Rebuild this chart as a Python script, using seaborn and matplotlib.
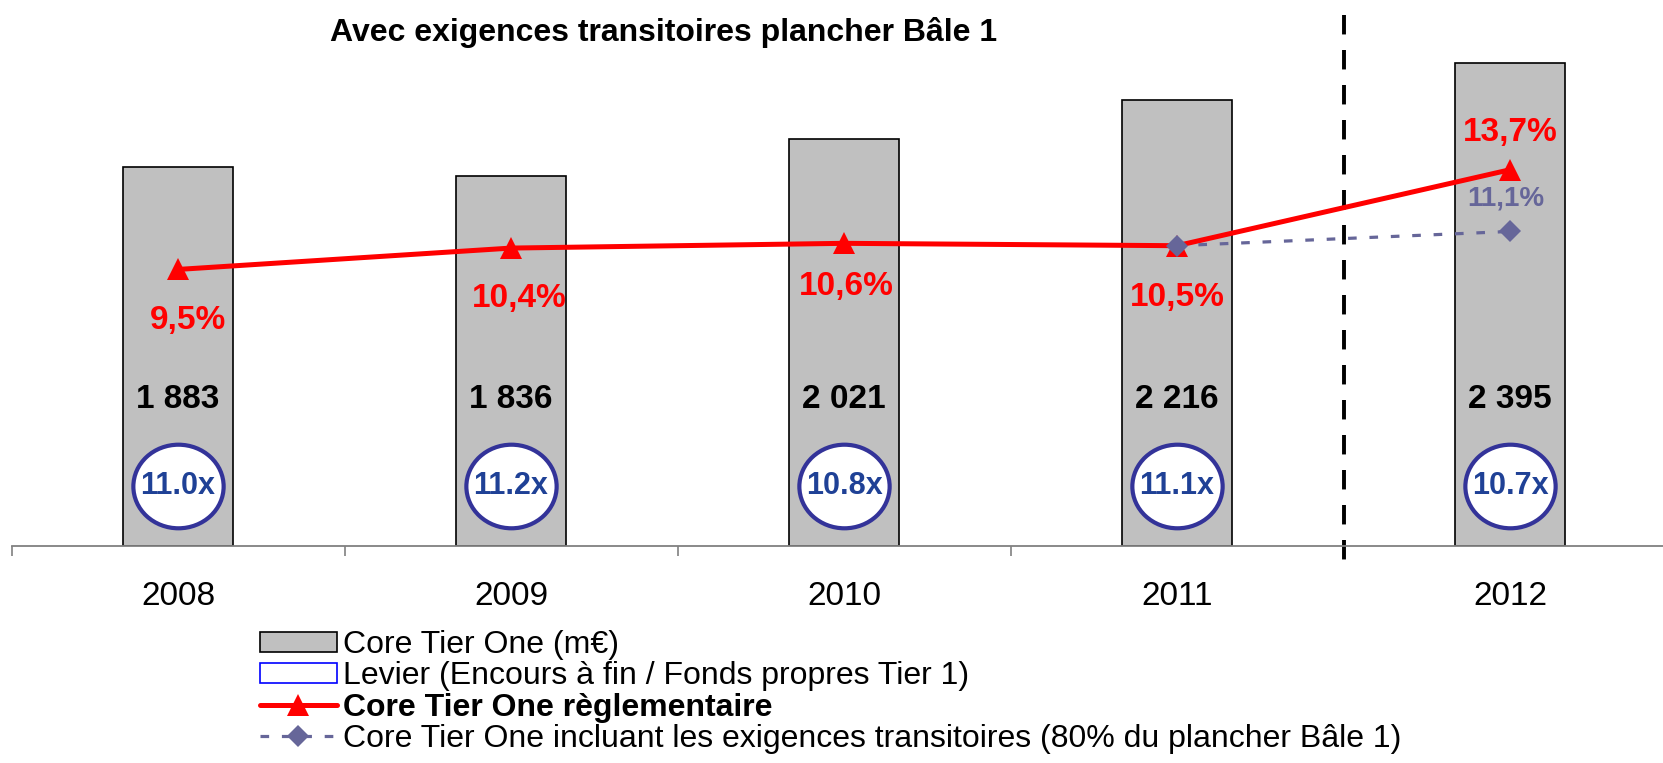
import numpy as np
import matplotlib
matplotlib.use("Agg")
import matplotlib.pyplot as plt
from matplotlib.patches import Patch
from matplotlib.lines import Line2D
from matplotlib.path import Path
from matplotlib.transforms import Affine2D
import seaborn as sns

# data
years = ["2008", "2009", "2010", "2011", "2012"]
core_tier_one = [1883, 1836, 2021, 2216, 2395]        # m€
leverage = [11.0, 11.2, 10.8, 11.1, 10.7]              # x
ct1_ratio = [9.5, 10.4, 10.6, 10.5, 13.7]              # %
transit_years = ["2011", "2012"]
transit_ratio = [10.5, 11.1]                           # %

title = "Avec exigences transitoires plancher Bâle 1"
legend_labels = [
    "Core Tier One (m€)",
    "Levier (Encours à fin / Fonds propres Tier 1)",
    "Core Tier One règlementaire",
    "Core Tier One incluant les exigences transitoires (80% du plancher Bâle 1)",
]

BAR_GREY = "#C0C0C0"
RED = "#FF0000"
SLATE = "#666699"
CIRCLE = "#333399"
LEV_TXT = "#1F4196"

sns.set_style("white")
plt.rcParams["font.family"] = ["Liberation Sans", "DejaVu Sans"]
plt.rcParams["text.color"] = "black"
plt.rcParams["xtick.color"] = "black"
plt.rcParams["xtick.labelcolor"] = "black"

fig = plt.figure(figsize=(16.63, 7.63), dpi=100)
ax = fig.add_axes([11.5 / 1663, 217 / 763, 1665 / 1663, 546 / 763])

pos = np.arange(len(years))
sns.barplot(x=pos, y=core_tier_one, color=BAR_GREY, edgecolor="black",
            linewidth=1.2, width=0.33, saturation=1, native_scale=True, ax=ax)
ax.set_xlim(-0.5, 4.5)
ax.set_ylim(0, 2710)

# bar values
for i, v in enumerate(core_tier_one):
    ax.text(i, 725, f"{v:,}".replace(",", " "), ha="center", va="center",
            fontsize=24, fontweight="bold", color="black", zorder=4)

# leverage circles (slightly wide ellipse)
ell = Path.unit_circle().transformed(Affine2D().scale(1.08, 1.0))
ax.scatter(pos, [300] * len(pos), marker=ell, s=65 ** 2, facecolor="white",
           edgecolor=CIRCLE, linewidth=3, zorder=3)
for i, v in enumerate(leverage):
    ax.text(i, 300, f"{v:.1f}x", ha="center", va="center", fontsize=22,
            fontweight="bold", color=LEV_TXT, zorder=4)

# ratio lines on secondary axis
ax2 = ax.twinx()
ax2.set_ylim(-2.15, 20.85)
sns.lineplot(x=pos, y=ct1_ratio, color=RED, linewidth=3.6, marker="^",
             markersize=16, markeredgewidth=0, ax=ax2, zorder=5)
tpos = [years.index(y) for y in transit_years]
sns.lineplot(x=tpos, y=transit_ratio, color=SLATE, linewidth=2.3, marker="D",
             markersize=11, markeredgewidth=0, ax=ax2, zorder=6)
ax2.lines[-1].set_dashes((2.7, 4))

offsets = [(7, -37), (6, -36), (2, -31), (0, -37), (0, 27)]
for i, (v, off) in enumerate(zip(ct1_ratio, offsets)):
    ax2.annotate(f"{v:.1f}%".replace(".", ","), (i, v), xytext=off,
                 textcoords="offset points", ha="center", va="center",
                 fontsize=24, fontweight="bold", color=RED)
ax2.annotate(f"{transit_ratio[-1]:.1f}%".replace(".", ","),
             (tpos[-1], transit_ratio[-1]), xytext=(-3, 24),
             textcoords="offset points", ha="center", va="center",
             fontsize=20, fontweight="bold", color=SLATE)

# projection separator, drawn top-down so the dash pattern starts at the top
ax.plot([3.5, 3.5], [0.9725, -0.048], transform=ax.get_xaxis_transform(),
        color="black", linewidth=2.8, dashes=(5, 4), clip_on=False, zorder=2)

# axis styling
for a in (ax, ax2):
    for s in ("top", "left", "right"):
        a.spines[s].set_visible(False)
ax2.spines["bottom"].set_visible(False)
ax.spines["bottom"].set_color("#808080")
ax.spines["bottom"].set_linewidth(1.3)
ax.set_yticks([])
ax2.set_yticks([])
ax2.set_ylabel("")
ax.set_xticks(pos)
ax.set_xticklabels(years, fontsize=24)
ax.set_xticks(np.arange(-0.5, 5, 1), minor=True)
ax.tick_params(axis="x", which="major", length=0, pad=25)
ax.tick_params(axis="x", which="minor", length=7, width=1.2, color="#808080",
               direction="out", bottom=True)

fig.text(664 / 1663, 1 - 33 / 763, title, ha="center", va="center",
         fontsize=23, fontweight="bold")

handles = [
    Patch(facecolor=BAR_GREY, edgecolor="black", linewidth=1.2),
    Patch(facecolor="white", edgecolor="#0000FF", linewidth=1.2),
    Line2D([], [], color=RED, linewidth=3.6, marker="^", markersize=16,
           markeredgewidth=0),
    Line2D([], [], color=SLATE, linewidth=2.3, marker="D", markersize=11,
           markeredgewidth=0, dashes=(2.7, 4)),
]
leg = fig.legend(handles, legend_labels, loc="upper left",
                 bbox_to_anchor=(260 / 1663, 1 - 630 / 763), frameon=False,
                 fontsize=23, handlelength=2.4, handleheight=0.6,
                 handletextpad=0.2, labelspacing=0.04, borderpad=0,
                 borderaxespad=0)
leg.get_texts()[2].set_fontweight("bold")

fig.savefig("out.png", dpi=100)
